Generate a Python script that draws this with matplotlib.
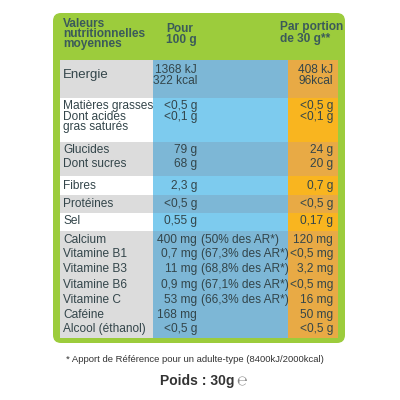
import matplotlib
matplotlib.use("Agg")
import matplotlib.pyplot as plt
from matplotlib.patches import Rectangle, FancyBboxPatch

labels = ["Energie", "", "Matières grasses", "Dont acides", "gras saturés", "Glucides", "Dont sucres",
          "Fibres", "Protéines", "Sel", "Calcium", "Vitamine B1", "Vitamine B3", "Vitamine B6",
          "Vitamine C", "Caféine", "Alcool (éthanol)"]
per100 = ["1368 kJ", "322 kcal", "<0,5 g", "<0,1 g", "", "79 g", "68 g", "2,3 g", "<0,5 g", "0,55 g",
          "400 mg", "0,7 mg", "11 mg", "0,9 mg", "53 mg", "168 mg", "<0,5 g"]
ar = ["", "", "", "", "", "", "", "", "", "", "(50% des AR*)", "(67,3% des AR*)", "(68,8% des AR*)",
      "(67,1% des AR*)", "(66,3% des AR*)", "", ""]
portion = ["408 kJ", "96kcal", "<0,5 g", "<0,1 g", "", "24 g", "20 g", "0,7 g", "<0,5 g", "0,17 g",
           "120 mg", "<0,5 mg", "3,2 mg", "<0,5 mg", "16 mg", "50 mg", "<0,5 g"]
row_y = [70, 81, 106, 117, 127, 150, 164, 186, 204, 221, 240, 254, 269, 285, 300, 315, 329]

fig = plt.figure(figsize=(4, 4), dpi=100)
ax = fig.add_axes([0, 0, 1, 1])
ax.set_xlim(0, 400); ax.set_ylim(400, 0); ax.axis("off")
fig.patch.set_facecolor("white")

green = "#9ccc3c"
ax.add_patch(FancyBboxPatch((53, 13), 292, 330, boxstyle="round,pad=0,rounding_size=8", fc=green, ec="none"))
ax.add_patch(Rectangle((60, 60), 278, 278, fc="white", ec="none"))
bands = [(60, 98, True), (98, 142, False), (142, 176, True), (176, 195, False),
         (195, 213, True), (213, 231, False), (231, 338, True)]
for y0, y1, sh in bands:
    ax.add_patch(Rectangle((60, y0), 93, y1 - y0, fc="#dcdcdc" if sh else "white", ec="none"))
    ax.add_patch(Rectangle((153, y0), 135, y1 - y0, fc="#7db7d6" if sh else "#7dcbee", ec="none"))
    ax.add_patch(Rectangle((288, y0), 50, y1 - y0, fc="#e8aa45" if sh else "#f9b51f", ec="none"))

tc = "#33454a"
FAM = "Liberation Sans"
kw = dict(family=FAM, color=tc, fontsize=8.6, va="center")
for i, y in enumerate(row_y):
    lab = labels[i]
    if i == 0:
        ax.text(63, 75, lab, ha="left", fontsize=9.5, **{k: v for k, v in kw.items() if k != "fontsize"})
    elif lab:
        ax.text(63, y, lab, ha="left", **kw)
    if per100[i]:
        ax.text(197, y, per100[i], ha="right", **kw)
    if ar[i]:
        ax.text(201, y, ar[i], ha="left", **kw)
    if portion[i]:
        ax.text(333, y, portion[i], ha="right", **kw)

hk = dict(family=FAM, color="#3b5a5a", fontsize=8.6, va="center", weight="bold")
ax.text(63, 24, "Valeurs", ha="left", **hk)
ax.text(63, 34, "nutritionnelles", ha="left", **hk)
ax.text(63, 44, "moyennes", ha="left", **hk)
ax.text(166, 29, "Pour", ha="left", **hk)
ax.text(166, 40, "100 g", ha="left", **hk)
ax.text(280, 27, "Par portion", ha="left", **hk)
ax.text(280, 39, "de 30 g**", ha="left", **hk)

ax.text(195, 360, "* Apport de Référence pour un adulte-type (8400kJ/2000kcal)", ha="center", va="center",
        family=FAM, fontsize=6.8, color="#333333")
ax.text(197, 381, "Poids : 30g", ha="center", va="center", family=FAM,
        fontsize=10, weight="bold", color="#333333")
ax.text(236, 382, "℮", ha="left", va="center", family="DejaVu Sans", fontsize=9, color="#888888")

fig.savefig("out.png", dpi=100)
